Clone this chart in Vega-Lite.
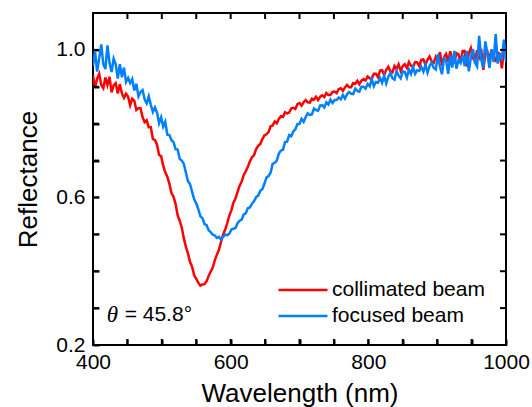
{
  "$schema": "https://vega.github.io/schema/vega-lite/v6.json",
  "width": 413,
  "height": 332,
  "autosize": "none",
  "padding": {"left": 93, "top": 13, "right": 26, "bottom": 62},
  "background": "white",
  "config": {
    "view": {"stroke": "black", "strokeWidth": 2},
    "font": "Liberation Sans",
    "axis": {
      "labelFont": "Liberation Sans",
      "labelFontSize": 21,
      "labelColor": "black",
      "titleFont": "Liberation Sans",
      "titleFontSize": 26,
      "titleFontWeight": "normal",
      "titleColor": "black",
      "domain": false,
      "ticks": true,
      "tickSize": 6,
      "tickWidth": 2,
      "tickColor": "black",
      "offset": -6,
      "zindex": 2,
      "grid": false
    }
  },
  "resolve": {"axis": {"x": "independent", "y": "independent"}},
  "datasets": {
    "spectra": [
      {"w":400,"c":0.931,"f":0.957},{"w":403,"c":0.898,"f":0.996},{"w":406,"c":0.922,"f":0.941},{"w":409,"c":0.935,"f":0.977},
      {"w":412,"c":0.905,"f":1.015},{"w":415,"c":0.896,"f":0.961},{"w":418,"c":0.925,"f":0.948},{"w":421,"c":0.905,"f":1.012},
      {"w":424,"c":0.927,"f":0.965},{"w":427,"c":0.885,"f":0.940},{"w":430,"c":0.904,"f":0.976},{"w":433,"c":0.910,"f":0.961},
      {"w":436,"c":0.882,"f":0.922},{"w":439,"c":0.907,"f":0.961},{"w":442,"c":0.882,"f":0.926},{"w":445,"c":0.870,"f":0.952},
      {"w":448,"c":0.881,"f":0.913},{"w":451,"c":0.873,"f":0.924},{"w":454,"c":0.850,"f":0.910},{"w":457,"c":0.868,"f":0.921},
      {"w":460,"c":0.862,"f":0.890},{"w":463,"c":0.837,"f":0.908},{"w":466,"c":0.842,"f":0.874},{"w":469,"c":0.842,"f":0.886},
      {"w":472,"c":0.818,"f":0.891},{"w":475,"c":0.804,"f":0.866},{"w":478,"c":0.809,"f":0.855},{"w":481,"c":0.790,"f":0.874},
      {"w":484,"c":0.790,"f":0.851},{"w":487,"c":0.758,"f":0.832},{"w":490,"c":0.756,"f":0.844},{"w":493,"c":0.743,"f":0.830},
      {"w":496,"c":0.715,"f":0.801},{"w":499,"c":0.712,"f":0.817},{"w":502,"c":0.686,"f":0.792},{"w":505,"c":0.668,"f":0.805},
      {"w":508,"c":0.656,"f":0.770},{"w":511,"c":0.637,"f":0.769},{"w":514,"c":0.612,"f":0.755},{"w":517,"c":0.602,"f":0.750},
      {"w":520,"c":0.582,"f":0.731},{"w":523,"c":0.551,"f":0.730},{"w":526,"c":0.537,"f":0.704},{"w":529,"c":0.518,"f":0.700},
      {"w":532,"c":0.489,"f":0.691},{"w":535,"c":0.466,"f":0.667},{"w":538,"c":0.448,"f":0.644},{"w":541,"c":0.425,"f":0.636},
      {"w":544,"c":0.412,"f":0.615},{"w":547,"c":0.389,"f":0.595},{"w":550,"c":0.379,"f":0.584},{"w":553,"c":0.369,"f":0.568},
      {"w":556,"c":0.361,"f":0.549},{"w":559,"c":0.364,"f":0.544},{"w":562,"c":0.365,"f":0.528},{"w":565,"c":0.373,"f":0.525},
      {"w":568,"c":0.387,"f":0.511},{"w":571,"c":0.399,"f":0.506},{"w":574,"c":0.410,"f":0.499},{"w":577,"c":0.430,"f":0.497},
      {"w":580,"c":0.445,"f":0.490},{"w":583,"c":0.458,"f":0.493},{"w":586,"c":0.480,"f":0.486},{"w":589,"c":0.499,"f":0.493},
      {"w":592,"c":0.513,"f":0.499},{"w":595,"c":0.530,"f":0.498},{"w":598,"c":0.551,"f":0.501},{"w":601,"c":0.565,"f":0.513},
      {"w":604,"c":0.586,"f":0.515},{"w":607,"c":0.597,"f":0.517},{"w":610,"c":0.615,"f":0.530},{"w":613,"c":0.632,"f":0.537},
      {"w":616,"c":0.643,"f":0.540},{"w":619,"c":0.661,"f":0.554},{"w":622,"c":0.671,"f":0.557},{"w":625,"c":0.683,"f":0.571},
      {"w":628,"c":0.698,"f":0.573},{"w":631,"c":0.709,"f":0.583},{"w":634,"c":0.715,"f":0.590},{"w":637,"c":0.731,"f":0.601},
      {"w":640,"c":0.740,"f":0.605},{"w":643,"c":0.745,"f":0.618},{"w":646,"c":0.758,"f":0.622},{"w":649,"c":0.768,"f":0.637},
      {"w":652,"c":0.771,"f":0.654},{"w":655,"c":0.777,"f":0.658},{"w":658,"c":0.793,"f":0.667},{"w":661,"c":0.795,"f":0.691},
      {"w":664,"c":0.806,"f":0.694},{"w":667,"c":0.801,"f":0.700},{"w":670,"c":0.813,"f":0.719},{"w":673,"c":0.820,"f":0.727},
      {"w":676,"c":0.818,"f":0.729},{"w":679,"c":0.831,"f":0.750},{"w":682,"c":0.828,"f":0.751},{"w":685,"c":0.830,"f":0.769},
      {"w":688,"c":0.841,"f":0.766},{"w":691,"c":0.843,"f":0.779},{"w":694,"c":0.840,"f":0.785},{"w":697,"c":0.853,"f":0.799},
      {"w":700,"c":0.856,"f":0.799},{"w":703,"c":0.849,"f":0.813},{"w":706,"c":0.858,"f":0.805},{"w":709,"c":0.864,"f":0.818},
      {"w":712,"c":0.858,"f":0.828},{"w":715,"c":0.857,"f":0.824},{"w":718,"c":0.868,"f":0.825},{"w":721,"c":0.865,"f":0.841},
      {"w":724,"c":0.873,"f":0.837},{"w":727,"c":0.864,"f":0.835},{"w":730,"c":0.873,"f":0.849},{"w":733,"c":0.877,"f":0.850},
      {"w":736,"c":0.872,"f":0.844},{"w":739,"c":0.883,"f":0.858},{"w":742,"c":0.878,"f":0.852},{"w":745,"c":0.878,"f":0.865},
      {"w":748,"c":0.886,"f":0.856},{"w":751,"c":0.887,"f":0.864},{"w":754,"c":0.883,"f":0.864},{"w":757,"c":0.894,"f":0.871},
      {"w":760,"c":0.896,"f":0.866},{"w":763,"c":0.889,"f":0.878},{"w":766,"c":0.898,"f":0.868},{"w":769,"c":0.905,"f":0.879},
      {"w":772,"c":0.899,"f":0.886},{"w":775,"c":0.899,"f":0.881},{"w":778,"c":0.910,"f":0.880},{"w":781,"c":0.908,"f":0.895},
      {"w":784,"c":0.916,"f":0.889},{"w":787,"c":0.907,"f":0.887},{"w":790,"c":0.917,"f":0.900},{"w":793,"c":0.921,"f":0.900},
      {"w":796,"c":0.917,"f":0.895},{"w":799,"c":0.928,"f":0.908},{"w":802,"c":0.923,"f":0.901},{"w":805,"c":0.921,"f":0.921},
      {"w":808,"c":0.935,"f":0.902},{"w":811,"c":0.935,"f":0.913},{"w":814,"c":0.926,"f":0.911},{"w":817,"c":0.944,"f":0.924},
      {"w":820,"c":0.945,"f":0.911},{"w":823,"c":0.932,"f":0.930},{"w":826,"c":0.946,"f":0.909},{"w":829,"c":0.954,"f":0.927},
      {"w":832,"c":0.942,"f":0.937},{"w":835,"c":0.939,"f":0.923},{"w":838,"c":0.956,"f":0.919},{"w":841,"c":0.948,"f":0.943},
      {"w":844,"c":0.961,"f":0.930},{"w":847,"c":0.943,"f":0.923},{"w":850,"c":0.956,"f":0.942},{"w":853,"c":0.961,"f":0.940},
      {"w":856,"c":0.951,"f":0.925},{"w":859,"c":0.967,"f":0.947},{"w":862,"c":0.957,"f":0.935},{"w":865,"c":0.954,"f":0.954},
      {"w":868,"c":0.967,"f":0.935},{"w":871,"c":0.966,"f":0.945},{"w":874,"c":0.956,"f":0.943},{"w":877,"c":0.973,"f":0.954},
      {"w":880,"c":0.974,"f":0.941},{"w":883,"c":0.960,"f":0.960},{"w":886,"c":0.973,"f":0.938},{"w":889,"c":0.982,"f":0.956},
      {"w":892,"c":0.969,"f":0.966},{"w":895,"c":0.965,"f":0.951},{"w":898,"c":0.981,"f":0.947},{"w":901,"c":0.971,"f":0.988},
      {"w":904,"c":0.994,"f":0.955},{"w":907,"c":0.957,"f":0.934},{"w":910,"c":0.981,"f":0.978},{"w":913,"c":0.989,"f":0.972},
      {"w":916,"c":0.968,"f":0.935},{"w":919,"c":0.996,"f":0.985},{"w":922,"c":0.974,"f":0.952},{"w":925,"c":0.968,"f":0.997},
      {"w":928,"c":0.991,"f":0.949},{"w":931,"c":0.988,"f":0.972},{"w":934,"c":0.967,"f":0.964},{"w":937,"c":0.997,"f":0.985},
      {"w":940,"c":0.997,"f":0.956},{"w":943,"c":0.955,"f":0.997},{"w":946,"c":0.991,"f":0.942},{"w":949,"c":1.005,"f":0.980},
      {"w":952,"c":0.977,"f":1.002},{"w":955,"c":0.969,"f":0.965},{"w":958,"c":0.999,"f":0.955},{"w":961,"c":0.981,"f":1.038},
      {"w":964,"c":1.003,"f":0.974},{"w":967,"c":0.946,"f":0.952},{"w":970,"c":0.988,"f":1.023},{"w":973,"c":0.995,"f":0.989},
      {"w":976,"c":0.973,"f":0.951},{"w":979,"c":1.001,"f":1.001},{"w":982,"c":0.978,"f":0.967},{"w":985,"c":0.971,"f":1.043},
      {"w":988,"c":0.993,"f":0.963},{"w":991,"c":0.989,"f":0.985},{"w":994,"c":0.950,"f":0.976},{"w":997,"c":0.997,"f":1.028},
      {"w":1000,"c":0.997,"f":0.968}
    ],
    "angle": [
      {"w": 420, "r": 0.281, "symbol": "θ", "rest": "= 45.8°", "w2": 446}
    ],
    "xticks": [
      {"v": 450}, {"v": 500}, {"v": 550}, {"v": 600}, {"v": 650}, {"v": 700},
      {"v": 750}, {"v": 800}, {"v": 850}, {"v": 900}, {"v": 950}
    ],
    "yticks": [
      {"v": 0.3}, {"v": 0.4}, {"v": 0.5}, {"v": 0.6}, {"v": 0.7}, {"v": 0.8}, {"v": 0.9}, {"v": 1.0}
    ]
  },
  "layer": [
    {
      "data": {"name": "spectra"},
      "transform": [{"fold": ["c", "f"], "as": ["s", "R"]}],
      "mark": {"type": "line", "strokeWidth": 2.5, "clip": true},
      "encoding": {
        "x": {
          "field": "w", "type": "quantitative",
          "scale": {"domain": [400, 1000], "nice": false, "zero": false},
          "axis": {
            "orient": "bottom",
            "title": "Wavelength (nm)",
            "values": [400, 450, 500, 550, 600, 650, 700, 750, 800, 850, 900, 950, 1000],
            "format": "d",
            "labelExpr": "datum.value % 200 == 0 ? datum.label : ''",
            "labelPadding": 6,
            "titlePadding": 8,
            "labelFlush": false
          }
        },
        "y": {
          "field": "R", "type": "quantitative",
          "scale": {"domain": [0.2, 1.1], "nice": false, "zero": false},
          "axis": {
            "orient": "left",
            "title": "Reflectance",
            "values": [0.2, 0.3, 0.4, 0.5, 0.6, 0.7, 0.8, 0.9, 1.0],
            "format": ".1f",
            "labelExpr": "(abs(datum.value - 0.2) < 0.01 || abs(datum.value - 0.6) < 0.01 || abs(datum.value - 1.0) < 0.01) ? datum.label : ''",
            "labelPadding": 8,
            "titlePadding": 14,
            "labelFlush": false
          }
        },
        "color": {
          "field": "s", "type": "nominal",
          "scale": {"domain": ["c", "f"], "range": ["#ff0000", "#0080ff"]},
          "legend": {
            "orient": "none",
            "legendX": 184,
            "legendY": 264,
            "title": null,
            "padding": 0,
            "symbolType": "stroke",
            "symbolSize": 2401,
            "symbolStrokeWidth": 2.5,
            "clipHeight": 26,
            "labelFont": "Liberation Sans",
            "labelFontSize": 21,
            "labelColor": "black",
            "labelOffset": 3,
            "rowPadding": 0,
            "labelExpr": "datum.label == 'c' ? 'collimated beam' : 'focused beam'"
          }
        }
      }
    },
    {
      "data": {"name": "xticks"},
      "mark": {"type": "tick", "orient": "vertical", "size": 12, "thickness": 2, "color": "black", "opacity": 1, "clip": true},
      "encoding": {
        "x": {"field": "v", "type": "quantitative", "axis": null},
        "y": {"datum": 0.2, "type": "quantitative", "axis": null}
      }
    },
    {
      "data": {"name": "xticks"},
      "mark": {"type": "tick", "orient": "vertical", "size": 12, "thickness": 2, "color": "black", "opacity": 1, "clip": true},
      "encoding": {
        "x": {"field": "v", "type": "quantitative", "axis": null},
        "y": {"datum": 1.1, "type": "quantitative", "axis": null}
      }
    },
    {
      "data": {"name": "yticks"},
      "mark": {"type": "tick", "orient": "horizontal", "size": 12, "thickness": 2, "color": "black", "opacity": 1, "clip": true},
      "encoding": {
        "x": {"datum": 400, "type": "quantitative", "axis": null},
        "y": {"field": "v", "type": "quantitative", "axis": null}
      }
    },
    {
      "data": {"name": "yticks"},
      "mark": {"type": "tick", "orient": "horizontal", "size": 12, "thickness": 2, "color": "black", "opacity": 1, "clip": true},
      "encoding": {
        "x": {"datum": 1000, "type": "quantitative", "axis": null},
        "y": {"field": "v", "type": "quantitative", "axis": null}
      }
    },
    {
      "data": {"name": "angle"},
      "mark": {"type": "text", "font": "Liberation Serif", "fontStyle": "italic", "fontSize": 23, "align": "left", "baseline": "middle", "color": "black"},
      "encoding": {
        "x": {"field": "w", "type": "quantitative", "axis": null},
        "y": {"field": "r", "type": "quantitative", "axis": null},
        "text": {"field": "symbol"}
      }
    },
    {
      "data": {"name": "angle"},
      "mark": {"type": "text", "font": "Liberation Sans", "fontSize": 21, "align": "left", "baseline": "middle", "color": "black"},
      "encoding": {
        "x": {"field": "w2", "type": "quantitative", "axis": null},
        "y": {"field": "r", "type": "quantitative", "axis": null},
        "text": {"field": "rest"}
      }
    }
  ]
}
